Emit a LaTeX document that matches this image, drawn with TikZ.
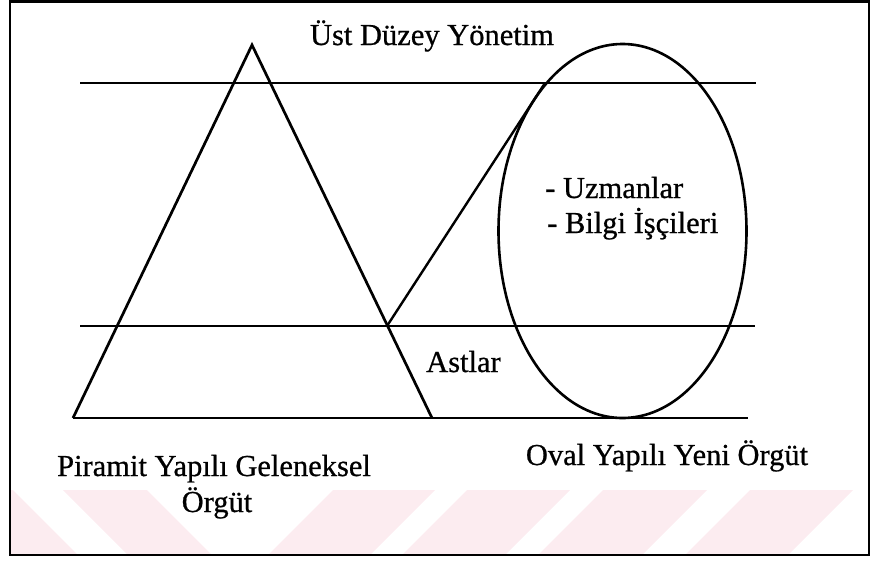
\documentclass[tikz,border=0pt]{standalone}
\usepackage{fontspec}
\setmainfont{Liberation Serif}[FakeBold=0.7]
\usetikzlibrary{shapes.geometric}
\definecolor{wm}{RGB}{252,236,240}
\begin{document}
\begin{tikzpicture}[x=1pt,y=-1pt,
  lab/.style={font=\fontsize{30.5}{36}\selectfont, inner sep=0pt, anchor=base},
  thickline/.style={line width=2.7pt, line join=miter},
  thinline/.style={line width=1.8pt}]
\useasboundingbox (0,0) rectangle (872,568);
% watermark stripes
\begin{scope}
\clip (10,490) rectangle (869,555);
\foreach \a/\w in {333/102,467/103,603/104,750/103}
  {\fill[wm] (\a,490) -- (\a+\w,490) -- (\a+\w-70,560) -- (\a-70,560) -- cycle;}
\foreach \a/\w in {-71/84,63/84}
  {\fill[wm] (\a,490) -- (\a+\w,490) -- (\a+\w+70,560) -- (\a+70,560) -- cycle;}
\end{scope}
% frame
\draw[line width=2.2pt] (10,1.5) rectangle (869,555);
% level lines
\coordinate (t1) at (80,83);  \coordinate (t2) at (756,83);
\coordinate (m1) at (80,326); \coordinate (m2) at (755,326);
\coordinate (b1) at (73,418); \coordinate (b2) at (748,418);
\draw[thinline] (t1) -- (t2);
\draw[thinline] (m1) -- (m2);
\draw[thinline] (b1) -- (b2);
% pyramid
\coordinate (apex) at (252,45);
\coordinate (bl) at (73,418);
\coordinate (br) at (432,418);
\draw[thickline] (bl) -- (apex) -- (br);
% link line
\coordinate (mx) at (387,326);
\coordinate (tx) at (545,83);
\draw[line width=2.4pt] (mx) -- (tx);
% oval
\node[draw, ellipse, line width=2.6pt, minimum width=248pt, minimum height=374pt, inner sep=0pt] (oval) at (622.5,231) {};
% labels
\node[lab] (ust) at (432,45) {Üst Düzey Yönetim};
\node[lab, anchor=base west] (uzm) at (545,198) {- Uzmanlar};
\node[lab, anchor=base west] (bil) at (547,233) {- Bilgi İşçileri};
\node[lab, anchor=base west] (ast) at (426,372) {Astlar};
\node[lab] (pir) at (214,476) {Piramit Yapılı Geleneksel};
\node[lab] (org) at (217,512) {Örgüt};
\node[lab] (ova) at (667,465) {Oval Yapılı Yeni Örgüt};
\end{tikzpicture}
\end{document}
